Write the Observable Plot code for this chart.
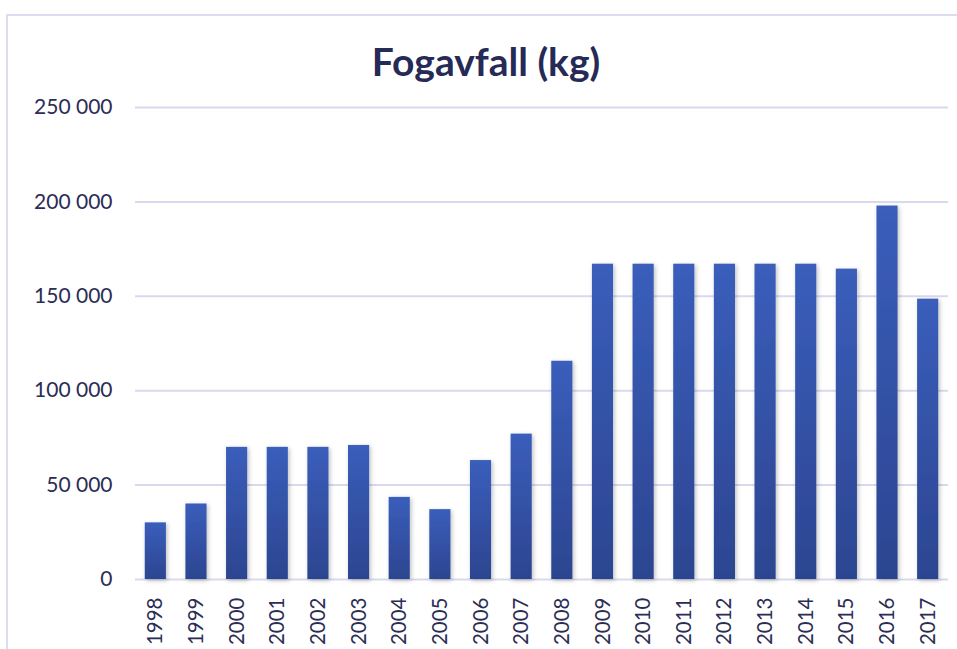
<!DOCTYPE html>
<html><head><meta charset="utf-8">
<script src="https://cdn.jsdelivr.net/npm/d3@7"></script>
<script src="https://cdn.jsdelivr.net/npm/@observablehq/plot@0.6"></script>
<style>
body{margin:0;background:#fff;}
#wrap{position:relative;width:957px;height:649px;overflow:hidden;background:#fff;}
#frame{position:absolute;left:6px;top:14px;width:1000px;height:700px;border-left:2px solid #dcdcf0;border-top:2px solid #dcdcf0;}
#title{position:relative;width:972px;height:42px;padding-top:38px;text-align:center;font-family:Lato,sans-serif;font-weight:700;font-size:39px;line-height:1.2;color:#262a56;white-space:nowrap;}
#chart{position:relative;}
</style>
</head><body>
<div id="wrap">
<div id="frame"></div>
<div id="title">Fogavfall (kg)</div>
<div id="chart"></div>
</div>
<script>
const years = ["1998","1999","2000","2001","2002","2003","2004","2005","2006","2007","2008","2009","2010","2011","2012","2013","2014","2015","2016","2017"];
const values = [30000,40000,70000,70000,70000,71000,43500,37000,63000,77000,115600,167000,167000,167000,167000,167000,167000,164400,197800,148500];
const yTicks = [0,50000,100000,150000,200000,250000];

const data = years.map((y,i)=>({year:y,value:values[i]}));
const fmt = d => d3.format(",")(d).replace(/,/g," ");

const chart = Plot.plot({
  width:957, height:569,
  marginTop:27, marginBottom:70, marginLeft:135, marginRight:9,
  style:{background:"transparent", color:"#2b2d55", overflow:"visible"},
  x:{domain:years, paddingInner:0.48, paddingOuter:0.24, round:false, label:null},
  y:{domain:[0,250000], label:null},
  marks:[
    Plot.gridY(yTicks,{stroke:"#d9d9ee", strokeOpacity:1, strokeWidth:2}),
    Plot.barY(data,{x:"year", y:"value", fill:"url(#barGrad)"}),
    Plot.axisY(yTicks,{tickSize:0, tickPadding:23, tickFormat:fmt, label:null, fill:"#2b2d55"}),
    Plot.axisX({tickSize:0, tickPadding:18, tickRotate:-90, label:null, fill:"#2b2d55"})
  ]
});

const svg = d3.select(chart);
svg.selectAll("g[aria-label='y-axis tick label']").attr("font-family","Lato").attr("font-size",21);
svg.selectAll("g[aria-label='x-axis tick label']").attr("font-family","Lato").attr("font-size",20.5);
const defs = svg.insert("defs",":first-child");
const g = defs.append("linearGradient").attr("id","barGrad").attr("x1",0).attr("y1",0).attr("x2",0).attr("y2",1);
g.append("stop").attr("offset","0%").attr("stop-color","#3a5ebb");
g.append("stop").attr("offset","100%").attr("stop-color","#2c4590");
const f = defs.append("filter").attr("id","shadow").attr("x","-30%").attr("y","-10%").attr("width","160%").attr("height","120%");
f.append("feDropShadow").attr("dx",1.5).attr("dy",1.5).attr("stdDeviation",2).attr("flood-color","#000").attr("flood-opacity",0.25);
svg.selectAll("g[aria-label='bar']").attr("filter","url(#shadow)");

document.getElementById("chart").appendChild(chart);
</script>
</body></html>
